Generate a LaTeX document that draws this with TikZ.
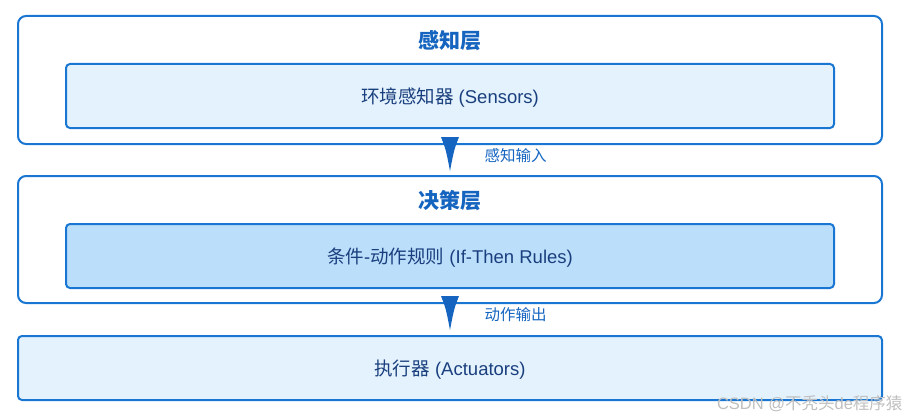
\documentclass[tikz,border=0pt]{standalone}
\usepackage{fontspec}
\setmainfont{Liberation Sans}
\newfontfamily\cjk{Noto Sans CJK SC}
\usetikzlibrary{arrows.meta}
\definecolor{borderblue}{HTML}{1976D2}
\definecolor{titleblue}{HTML}{1565C0}
\definecolor{textblue}{HTML}{1A3F7E}
\definecolor{lightfill}{HTML}{E3F2FD}
\definecolor{midfill}{HTML}{BBDEFB}
\tikzset{
  layerbox/.style={draw=borderblue, line width=2pt, rounded corners=8pt, fill=white},
  innerbox/.style={draw=borderblue, line width=2pt, rounded corners=4pt},
  titletext/.style={text=titleblue, font=\fontsize{21}{25}\selectfont\bfseries},
  bodytext/.style={text=textblue, font=\fontsize{18.5}{22}\selectfont},
  labeltext/.style={text=titleblue, font=\fontsize{15.5}{18}\selectfont},
}
\begin{document}
\begin{tikzpicture}[x=1pt,y=-1pt]
\useasboundingbox (0,0) rectangle (908,420);
% layer 1
\draw[layerbox] (18,16) rectangle (882,144);
\node[titletext] (t1) at (450,41) {\cjk 感知层};
\draw[innerbox, fill=lightfill] (66,64) rectangle (834,128);
\node[bodytext] (b1) at (450,97.5) {{\cjk 环境感知器} (Sensors)};
% layer 2
\draw[layerbox] (18,176) rectangle (882,303);
\node[titletext] (t2) at (450,201) {\cjk 决策层};
\draw[innerbox, fill=midfill] (66,224) rectangle (834,288);
\node[bodytext] (b2) at (450,257.5) {{\cjk 条件}-{\cjk 动作规则} (If-Then Rules)};
% layer 3
\draw[innerbox, fill=lightfill] (18,336) rectangle (882,400);
\node[bodytext] (b3) at (450,369.5) {{\cjk 执行器} (Actuators)};
% arrows
\fill[titleblue] (441,137) .. controls (446,150) .. (450,171) .. controls (454,150) .. (459,137) -- cycle;
\fill[titleblue] (441,296) .. controls (446,309) .. (450,330) .. controls (454,309) .. (459,296) -- cycle;
\node[labeltext, anchor=west] (l1) at (481,155.5) {\cjk 感知输入};
\node[labeltext, anchor=west] (l2) at (481,314.5) {\cjk 动作输出};
% watermark
\node[text=black!25, font=\fontsize{16.5}{19}\selectfont, anchor=east] (wm) at (906,404) {CSDN @{\cjk 不秃头}de{\cjk 程序猿}};
\end{tikzpicture}
\end{document}
